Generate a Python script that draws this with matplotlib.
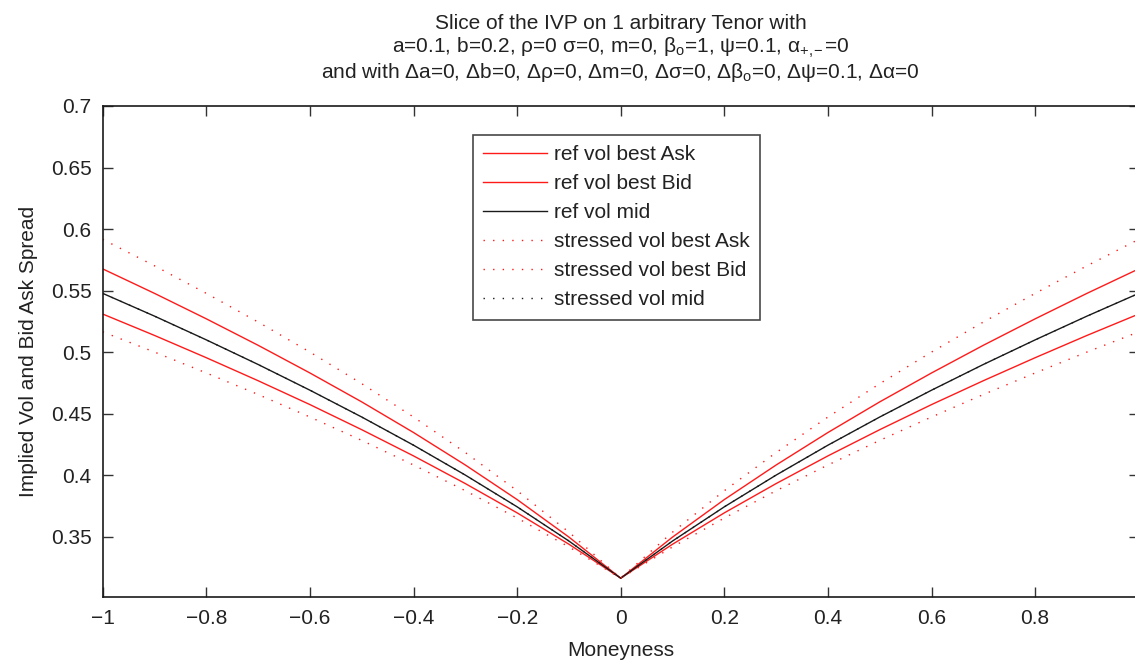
import matplotlib
matplotlib.use("Agg")
import matplotlib.pyplot as plt
from matplotlib.transforms import blended_transform_factory

plt.rcParams["font.family"] = ["Liberation Sans", "DejaVu Sans"]
plt.rcParams["mathtext.fontset"] = "custom"
plt.rcParams["mathtext.rm"] = "Liberation Sans"
plt.rcParams["mathtext.it"] = "Liberation Sans"
plt.rcParams["mathtext.bf"] = "Liberation Sans:bold"

# Moneyness grid
moneyness = [-1.0, -0.9, -0.8, -0.7, -0.6, -0.5, -0.4, -0.3, -0.2, -0.1, 0.0,
             0.1, 0.2, 0.3, 0.4, 0.5, 0.6, 0.7, 0.8, 0.9, 1.0]

# Reference implied vols
ref_ask = [0.5676, 0.5477, 0.5270, 0.5055, 0.4830, 0.4595, 0.4346, 0.4082, 0.3801, 0.3496, 0.3162,
           0.3496, 0.3801, 0.4082, 0.4346, 0.4595, 0.4830, 0.5055, 0.5270, 0.5477, 0.5676]
ref_bid = [0.5309, 0.5135, 0.4954, 0.4767, 0.4573, 0.4369, 0.4156, 0.3931, 0.3693, 0.3438, 0.3162,
           0.3438, 0.3693, 0.3931, 0.4156, 0.4369, 0.4573, 0.4767, 0.4954, 0.5135, 0.5309]
ref_mid = [0.5477, 0.5292, 0.5099, 0.4899, 0.4690, 0.4472, 0.4243, 0.4000, 0.3742, 0.3464, 0.3162,
           0.3464, 0.3742, 0.4000, 0.4243, 0.4472, 0.4690, 0.4899, 0.5099, 0.5292, 0.5477]

# Stressed implied vols
str_ask = [0.5916, 0.5701, 0.5477, 0.5244, 0.5000, 0.4743, 0.4472, 0.4183, 0.3873, 0.3536, 0.3162,
           0.3536, 0.3873, 0.4183, 0.4472, 0.4743, 0.5000, 0.5244, 0.5477, 0.5701, 0.5916]
str_bid = [0.5164, 0.5000, 0.4830, 0.4655, 0.4472, 0.4282, 0.4082, 0.3873, 0.3651, 0.3416, 0.3162,
           0.3416, 0.3651, 0.3873, 0.4082, 0.4282, 0.4472, 0.4655, 0.4830, 0.5000, 0.5164]
str_mid = list(ref_mid)

x_ticks = [-1, -0.8, -0.6, -0.4, -0.2, 0, 0.2, 0.4, 0.6, 0.8]
x_ticklabels = ["\u22121", "\u22120.8", "\u22120.6", "\u22120.4", "\u22120.2", "0", "0.2", "0.4", "0.6", "0.8"]
y_ticks = [0.35, 0.4, 0.45, 0.5, 0.55, 0.6, 0.65, 0.7]
y_ticklabels = ["0.35", "0.4", "0.45", "0.5", "0.55", "0.6", "0.65", "0.7"]

title_lines = [
    "Slice of the IVP on 1 arbitrary Tenor with",
    r"a=0.1, b=0.2, ρ=0 σ=0, m=0, β$_{\rm o}$=1, ψ=0.1, α$_{+,\!\!-}$=0",
    r"and with Δa=0, Δb=0, Δρ=0, Δm=0, Δσ=0, Δβ$_{\rm o}$=0, Δψ=0.1, Δα=0",
]
title_y = [0.965, 0.927, 0.890]

TXT = "#222222"
RED = "#ff1a1a"
FS = 15

fig = plt.figure(figsize=(11.35, 6.6), dpi=100)
ax = fig.add_axes([0.0905, 0.0947, 0.9128, 0.7447])

dots = (0, (1.0, 5.9))
ax.plot(moneyness, ref_ask, color=RED, lw=1.0, label="ref vol best Ask")
ax.plot(moneyness, ref_bid, color=RED, lw=1.0, label="ref vol best Bid")
ax.plot(moneyness, ref_mid, color="#1a1a1a", lw=1.0, label="ref vol mid")
ax.plot(moneyness, str_ask, color=RED, lw=1.0, linestyle=dots, label="stressed vol best Ask")
ax.plot(moneyness, str_bid, color=RED, lw=1.0, linestyle=dots, label="stressed vol best Bid")
ax.plot(moneyness, str_mid, color="#1a1a1a", lw=1.0, linestyle=dots, label="stressed vol mid")

ax.set_xlim(-1, 1)
ax.set_ylim(0.3005, 0.7)
ax.set_xticks(x_ticks)
ax.set_xticklabels(x_ticklabels)
ax.set_yticks(y_ticks)
ax.set_yticklabels(y_ticklabels)
ax.tick_params(direction="in", length=7, width=1.0, top=True, right=True,
               labelsize=FS, colors="#333333", labelcolor=TXT, pad=8)
for sp in ax.spines.values():
    sp.set_linewidth(1.2)
    sp.set_color("#1a1a1a")

ax.set_xlabel("Moneyness", fontsize=FS, color=TXT, labelpad=10)
ax.set_ylabel("Implied Vol and Bid Ask Spread", fontsize=FS, color=TXT, labelpad=9)

# Three-line title, centred over the axes
trans = blended_transform_factory(ax.transAxes, fig.transFigure)
for line, yy in zip(title_lines, title_y):
    ax.text(0.5, yy, line, transform=trans, ha="center", va="center",
            fontsize=FS, color=TXT)

leg = ax.legend(loc="upper left", bbox_to_anchor=(0.357, 0.941), fontsize=FS,
                handlelength=3.08, handletextpad=0.34, labelspacing=0.48,
                borderpad=0.5, frameon=True, fancybox=False, borderaxespad=0)
leg.get_frame().set_edgecolor("#1a1a1a")
leg.get_frame().set_linewidth(1.2)
for t in leg.get_texts():
    t.set_color(TXT)

fig.savefig("out.png", dpi=100)
